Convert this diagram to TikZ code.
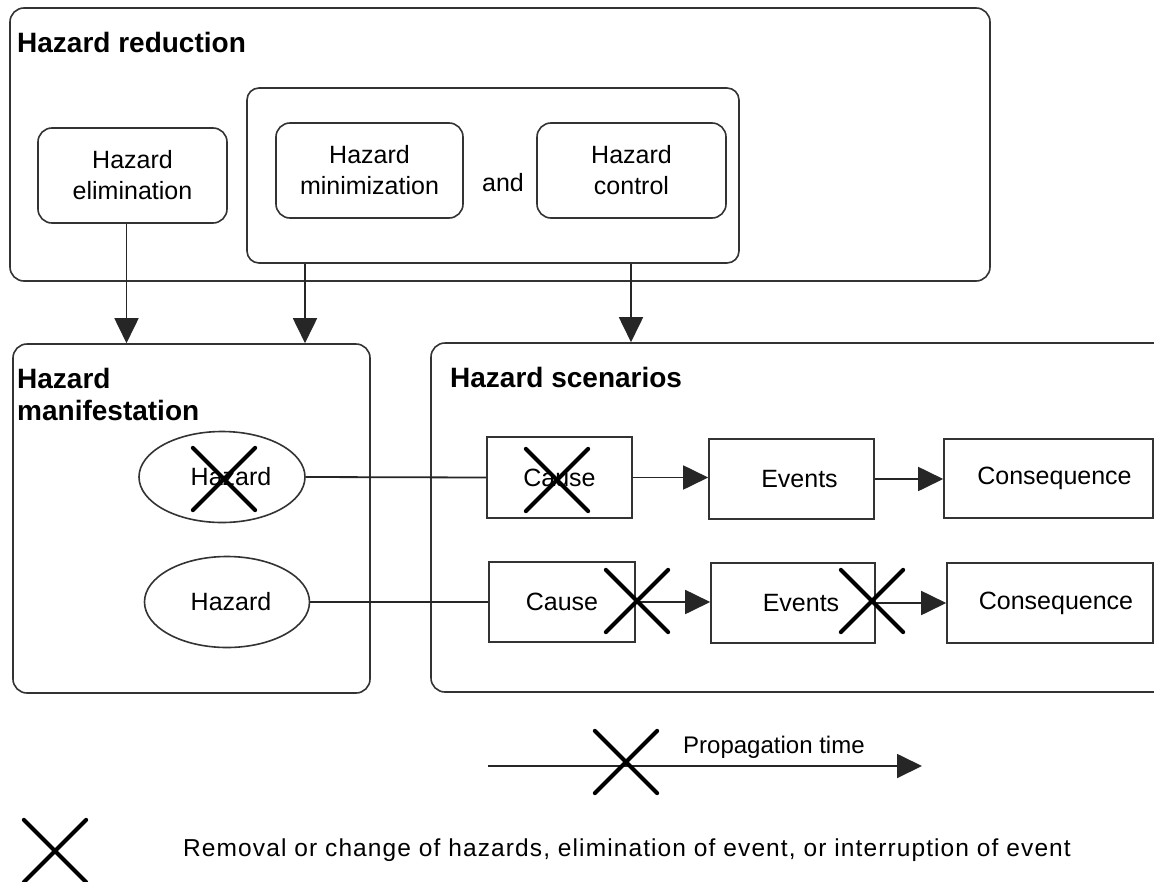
\documentclass[tikz,border=0pt]{standalone}
\usepackage{fontspec}
\setmainfont{Liberation Sans}
\usetikzlibrary{arrows.meta,shapes.geometric,shapes.misc}
\begin{document}
\begin{tikzpicture}[x=1pt,y=-1pt,
  boxline/.style={draw=black!80, line width=1.6pt},
  rbox/.style={boxline, rounded corners=14pt, inner sep=0pt, align=center, font=\fontsize{25}{31}\selectfont},
  sbox/.style={boxline, inner sep=0pt, align=center, font=\fontsize{25}{31}\selectfont},
  ebox/.style={boxline, ellipse, inner sep=0pt, font=\fontsize{25}{31}\selectfont},
  title/.style={font=\fontsize{28}{32}\selectfont\bfseries, inner sep=0pt, align=left},
  txt/.style={font=\fontsize{24}{28}\selectfont, inner sep=0pt},
  conn/.style={draw=black!85, line width=1.8pt},
  arr/.style={conn, -{Triangle[length=25pt,width=24pt]}},
  xmark/.style={cross out, draw=black, line width=4.2pt, line cap=round, minimum width=58pt, minimum height=58pt, inner sep=0pt},
]
\useasboundingbox (0,0) rectangle (1154,881);
\clip (0,0) rectangle (1154,881);

% containers
\node[rbox, minimum width=980pt, minimum height=273pt] (red) at (500,144.5) {};
\node[title, anchor=base west] (redt) at (17,52) {Hazard reduction};
\node[rbox, rounded corners=12pt, minimum width=492pt, minimum height=175pt] (grp) at (493,175.5) {};
\node[rbox, minimum width=189pt, minimum height=95pt] (elim) at (132.5,175.5) {Hazard\\elimination};
\node[rbox, minimum width=187pt, minimum height=95pt] (mini) at (369.5,170.5) {Hazard\\minimization};
\node[rbox, minimum width=189pt, minimum height=95pt] (ctrl) at (631.5,170.5) {Hazard\\control};
\node[txt, font=\fontsize{25}{31}\selectfont] (and) at (503,183) {and};

\node[rbox, minimum width=357pt, minimum height=349pt] (man) at (191.5,518.5) {};
\node[title, anchor=north west] (mant) at (17,368.3) {Hazard\\manifestation};
\node[rbox, minimum width=739pt, minimum height=349pt] (scn) at (800.5,517.5) {};
\node[title, anchor=base west] (scnt) at (450,387) {Hazard scenarios};

% hazards
\node[ebox, minimum width=166pt, minimum height=91pt] (hz1) at (222,477) {\hspace*{18pt}Hazard};
\node[ebox, minimum width=165pt, minimum height=91pt] (hz2) at (227,602) {\hspace*{8pt}Hazard};

% scenario boxes
\node[sbox, minimum width=145pt, minimum height=81pt] (ca1) at (559.5,477.5) {Cause};
\node[sbox, minimum width=165pt, minimum height=80pt] (ev1) at (791.5,479) {\hspace*{16pt}Events};
\node[sbox, minimum width=209pt, minimum height=79pt] (co1) at (1048.5,478.5) {\hspace*{12pt}Consequence};
\node[sbox, minimum width=146pt, minimum height=80pt] (ca2) at (562,602) {Cause};
\node[sbox, minimum width=164pt, minimum height=80pt] (ev2) at (793,603) {\hspace*{16pt}Events};
\node[sbox, minimum width=206pt, minimum height=80pt] (co2) at (1050,603) {\hspace*{12pt}Consequence};

% arrows from reduction
\draw[arr] ([xshift=-6pt]elim.south) -- ([xshift=-6pt]elim.south |- man.north);
\draw[arr] (grp.south -| 305,0) -- (man.north -| 305,0);
\draw[arr] (grp.south -| 631,0) -- (scn.north -| 631,0);

% connectors
\draw[conn] (hz1.east) -- (ca1.west);
\draw[conn] (hz2.east) -- (ca2.west);
\draw[arr] (ca1.east) -- (ca1.east -| ev1.west);
\draw[arr] (ev1.east) -- (ev1.east -| co1.west);
\draw[arr] (ca2.east) -- (ca2.east -| ev2.west);
\draw[arr] (ev2.east) -- (ev2.east -| co2.west);

% propagation time
\coordinate (p1) at (488,766);
\coordinate (p2) at (922,766);
\draw[arr] (p1) -- (p2);
\node[txt, anchor=base west] (pt) at (683,753) {Propagation time};

% crosses
\node[xmark] (x1) at (224,479) {};
\node[xmark] (x2) at (557,480) {};
\node[xmark] (x3) at (637,601) {};
\node[xmark] (x4) at (872,601) {};
\node[xmark] (x5) at (626,762) {};
\node[xmark] (x6) at (55,851) {};

\node[txt, anchor=west, font=\fontsize{24.5}{28}\selectfont\addfontfeatures{LetterSpace=4.5}] (leg) at (183,850) {Removal or change of hazards, elimination of event, or interruption of event};
\end{tikzpicture}
\end{document}
